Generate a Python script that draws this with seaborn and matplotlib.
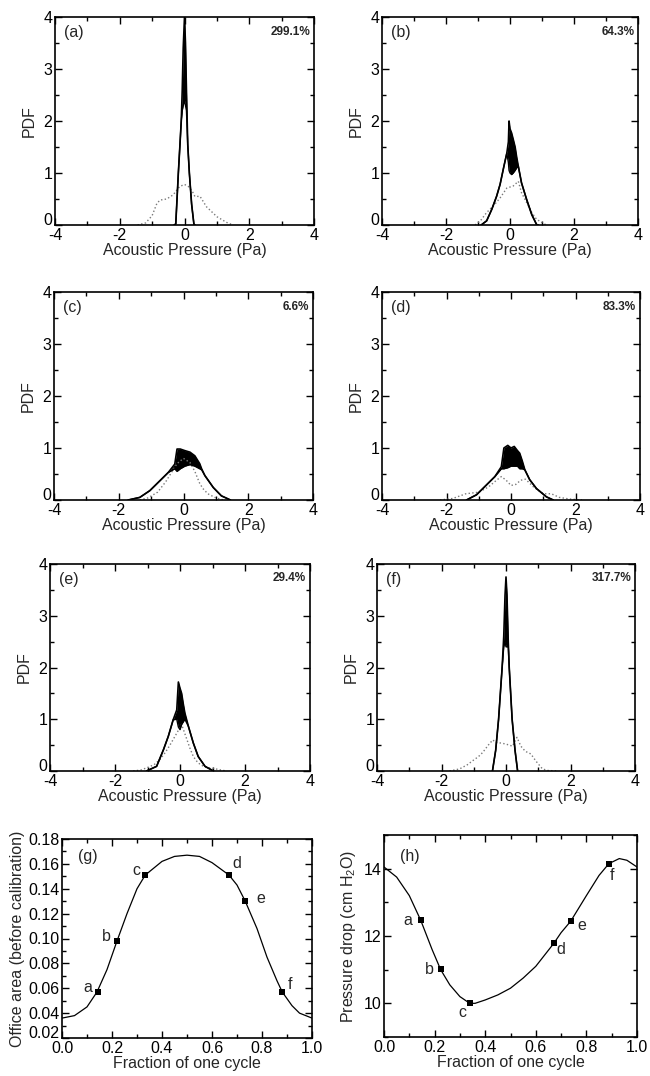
import matplotlib
matplotlib.use("Agg")
import matplotlib.pyplot as plt
import matplotlib.transforms as mtrans
import seaborn as sns
from matplotlib.ticker import MultipleLocator, FormatStrFormatter

# ---- data ----
tags = ['(a)', '(b)', '(c)', '(d)', '(e)', '(f)']
percents = ['299.1%', '64.3%', '6.6%', '83.3%', '29.4%', '317.7%']

# solid PDF: x, upper outline, lower edge of the noisy band
sx_a = [-0.32, -0.27, -0.19, -0.14, -0.1, -0.07, -0.04, 0.0, 0.03, 0.06, 0.1, 0.15, 0.22, 0.29, 0.32]
hi_a = [0, 0.02, 1.0, 1.55, 2.0, 2.6, 3.4, 4.0, 3.5, 2.6, 1.55, 1.0, 0.4, 0.02, 0]
lo_a = [0, 0.02, 1.0, 1.55, 2.0, 2.2, 2.3, 2.4, 2.3, 2.2, 1.55, 1.0, 0.4, 0.02, 0]

sx_b = [-0.9, -0.73, -0.57, -0.42, -0.31, -0.19, -0.1, -0.05, -0.03, 0.0, 0.05, 0.1, 0.16, 0.21, 0.26, 0.36, 0.52, 0.68, 0.83, 0.88]
hi_b = [0, 0.08, 0.3, 0.55, 0.78, 1.13, 1.38, 1.6, 2.0, 1.85, 1.77, 1.65, 1.5, 1.3, 1.13, 0.81, 0.49, 0.2, 0.01, 0]
lo_b = [0, 0.08, 0.3, 0.55, 0.78, 1.13, 1.38, 1.2, 1.05, 1.0, 0.97, 1.0, 1.05, 1.1, 1.13, 0.81, 0.49, 0.2, 0.01, 0]

sx_c = [-1.71, -1.35, -1.04, -0.73, -0.47, -0.27, -0.2, -0.1, 0.04, 0.2, 0.35, 0.5, 0.56, 0.66, 0.92, 1.17, 1.45]
hi_c = [0, 0.05, 0.18, 0.37, 0.53, 0.69, 0.98, 0.98, 0.95, 0.92, 0.85, 0.7, 0.6, 0.47, 0.24, 0.08, 0]
lo_c = [0, 0.05, 0.18, 0.37, 0.53, 0.6, 0.55, 0.6, 0.65, 0.68, 0.65, 0.6, 0.58, 0.47, 0.24, 0.08, 0]

sx_d = [-1.38, -1.07, -0.76, -0.5, -0.3, -0.22, -0.1, 0.0, 0.1, 0.2, 0.27, 0.35, 0.43, 0.58, 0.79, 1.1, 1.31]
hi_d = [0, 0.1, 0.29, 0.45, 0.64, 1.0, 1.05, 1.0, 1.03, 0.95, 0.9, 0.75, 0.58, 0.39, 0.22, 0.06, 0]
lo_d = [0, 0.1, 0.29, 0.45, 0.6, 0.6, 0.62, 0.65, 0.65, 0.65, 0.6, 0.6, 0.58, 0.39, 0.22, 0.06, 0]

sx_e = [-1.03, -0.72, -0.51, -0.36, -0.21, -0.1, -0.05, 0.0, 0.05, 0.1, 0.15, 0.26, 0.41, 0.56, 0.77, 1.03]
hi_e = [0, 0.09, 0.41, 0.67, 0.99, 1.18, 1.72, 1.6, 1.5, 1.3, 1.12, 0.86, 0.54, 0.28, 0.09, 0]
lo_e = [0, 0.09, 0.41, 0.67, 0.99, 1.0, 0.85, 0.8, 0.9, 0.95, 1.0, 0.86, 0.54, 0.28, 0.09, 0]

sx_f = [-0.42, -0.32, -0.23, -0.12, -0.07, -0.03, 0.0, 0.03, 0.07, 0.1, 0.19, 0.28, 0.36]
hi_f = [0, 0.4, 1.0, 2.0, 2.6, 3.4, 3.75, 3.4, 2.5, 2.0, 1.0, 0.4, 0]
lo_f = [0, 0.4, 1.0, 2.0, 2.4, 2.5, 2.4, 2.4, 2.4, 2.0, 1.0, 0.4, 0]

# dotted PDF
dx_a = [-1.45, -1.2, -1.0, -0.85, -0.75, -0.55, -0.35, -0.15, 0.0, 0.12, 0.24, 0.32, 0.48, 0.68, 1.0, 1.3, 1.5]
dy_a = [0, 0.04, 0.18, 0.42, 0.48, 0.5, 0.58, 0.74, 0.78, 0.74, 0.65, 0.55, 0.55, 0.35, 0.16, 0.05, 0]

dx_b = [-1.09, -0.9, -0.73, -0.5, -0.31, -0.1, 0.1, 0.26, 0.36, 0.47, 0.68, 0.83, 1.04, 1.14]
dy_b = [0, 0.1, 0.24, 0.38, 0.52, 0.71, 0.75, 0.84, 0.62, 0.49, 0.24, 0.11, 0.03, 0]

dx_c = [-1.35, -1.1, -0.8, -0.55, -0.35, -0.2, 0.0, 0.2, 0.35, 0.5, 0.6, 0.75, 1.0, 1.25]
dy_c = [0, 0.04, 0.15, 0.35, 0.55, 0.7, 0.8, 0.72, 0.55, 0.32, 0.22, 0.12, 0.04, 0]

dx_d = [-2.2, -1.8, -1.4, -1.0, -0.7, -0.45, -0.3, -0.15, 0.0, 0.15, 0.3, 0.45, 0.7, 1.0, 1.25, 1.5, 1.8, 2.2]
dy_d = [0, 0.03, 0.12, 0.15, 0.25, 0.38, 0.45, 0.38, 0.28, 0.3, 0.38, 0.4, 0.25, 0.12, 0.12, 0.05, 0.02, 0]

dx_e = [-1.44, -1.2, -1.03, -0.8, -0.62, -0.45, -0.31, -0.1, 0.05, 0.2, 0.3, 0.41, 0.55, 0.72, 0.9, 1.03, 1.25, 1.44]
dy_e = [0, 0.02, 0.06, 0.12, 0.22, 0.36, 0.5, 0.73, 0.9, 0.63, 0.45, 0.28, 0.16, 0.09, 0.06, 0.05, 0.02, 0]

dx_f = [-1.75, -1.44, -1.2, -1.03, -0.85, -0.72, -0.55, -0.41, -0.31, -0.15, 0.0, 0.2, 0.34, 0.46, 0.6, 0.77, 0.93, 1.13, 1.3, 1.6]
dy_f = [0, 0.04, 0.12, 0.2, 0.28, 0.36, 0.5, 0.6, 0.55, 0.54, 0.52, 0.48, 0.65, 0.48, 0.38, 0.33, 0.19, 0.04, 0.01, 0]

# (g) orifice area over one cycle
gx = [0.0, 0.05, 0.1, 0.14, 0.18, 0.22, 0.26, 0.3, 0.333, 0.4, 0.45, 0.5, 0.55, 0.6, 0.668, 0.7, 0.733, 0.78, 0.82, 0.86, 0.881, 0.92, 0.95, 1.0]
gy = [0.036, 0.038, 0.045, 0.057, 0.075, 0.098, 0.12, 0.14, 0.151, 0.162, 0.166, 0.167, 0.166, 0.161, 0.151, 0.143, 0.130, 0.108, 0.085, 0.066, 0.057, 0.046, 0.040, 0.036]
g_pts_x = [0.144, 0.22, 0.333, 0.668, 0.733, 0.881]
g_pts_y = [0.057, 0.098, 0.151, 0.151, 0.130, 0.057]

# (h) pressure drop over one cycle
hx = [0.0, 0.05, 0.1, 0.145, 0.19, 0.224, 0.26, 0.3, 0.339, 0.36, 0.4, 0.45, 0.5, 0.55, 0.6, 0.671, 0.7, 0.738, 0.8, 0.85, 0.889, 0.93, 0.96, 1.0]
hy = [14.05, 13.75, 13.2, 12.47, 11.6, 11.0, 10.55, 10.2, 10.0, 10.0, 10.1, 10.25, 10.45, 10.75, 11.1, 11.78, 12.1, 12.44, 13.2, 13.8, 14.15, 14.3, 14.25, 14.05]
h_pts_x = [0.145, 0.224, 0.339, 0.671, 0.738, 0.889]
h_pts_y = [12.47, 11.01, 10.0, 11.78, 12.44, 14.15]
pt_names = ['a', 'b', 'c', 'd', 'e', 'f']

# ---- style ----
sns.set_style("ticks")
plt.rcParams['font.family'] = ['Liberation Sans', 'DejaVu Sans']
plt.rcParams['mathtext.default'] = 'regular'
plt.rcParams['axes.unicode_minus'] = False
plt.rcParams['axes.linewidth'] = 1.2

FS = 11.5  # labels and ticks

fig = plt.figure(figsize=(6.5, 10.76), dpi=100)
W, H = 650.0, 1076.0


def make_axes(left, right, top, bottom):
    return fig.add_axes([left / W, 1 - bottom / H, (right - left) / W, (bottom - top) / H])


def style_ticks(ax):
    ax.tick_params(which='both', direction='in', top=True, right=True, labelsize=FS,
                   pad=2, color='k', labelcolor='k')
    ax.tick_params(which='major', length=5, width=1)
    ax.tick_params(which='minor', length=3, width=1)
    for s in ax.spines.values():
        s.set_color('k')
        s.set_linewidth(1.2)


boxes = [(55, 314, 17, 225), (382, 638, 17, 225),
         (54, 313, 292, 500), (382, 640, 292, 500),
         (50, 310, 564, 771), (377, 635, 564, 771)]
solid = [(sx_a, hi_a, lo_a), (sx_b, hi_b, lo_b), (sx_c, hi_c, lo_c),
         (sx_d, hi_d, lo_d), (sx_e, hi_e, lo_e), (sx_f, hi_f, lo_f)]
dotted = [(dx_a, dy_a), (dx_b, dy_b), (dx_c, dy_c), (dx_d, dy_d), (dx_e, dy_e), (dx_f, dy_f)]

all_axes = []
for i in range(6):
    ax = make_axes(*boxes[i])
    dx, dy = dotted[i]
    sx, hi, lo = solid[i]
    sns.lineplot(x=dx, y=dy, ax=ax, color='#7a7a7a', lw=1.0, linestyle=':')
    ax.fill_between(sx, lo, hi, color='k', lw=0)
    sns.lineplot(x=sx, y=hi, ax=ax, color='k', lw=1.2)
    sns.lineplot(x=sx, y=lo, ax=ax, color='k', lw=1.0)
    ax.set_xlim(-4, 4)
    ax.set_ylim(0, 4)
    ax.xaxis.set_major_locator(MultipleLocator(2))
    ax.xaxis.set_minor_locator(MultipleLocator(1))
    ax.yaxis.set_major_locator(MultipleLocator(1))
    ax.yaxis.set_minor_locator(MultipleLocator(0.5))
    style_ticks(ax)
    ax.set_xlabel('Acoustic Pressure (Pa)', fontsize=FS, labelpad=0)
    ax.set_ylabel('PDF', fontsize=FS, labelpad=5)
    ax.text(0.035, 0.925, tags[i], transform=ax.transAxes, fontsize=FS, ha='left', va='center')
    ax.text(0.985, 0.93, percents[i], transform=ax.transAxes, fontsize=8.5,
            fontweight='bold', ha='right', va='center')
    all_axes.append(ax)

# (g)
axg = make_axes(62, 312, 839, 1038)
sns.lineplot(x=gx, y=gy, ax=axg, color='k', lw=0.9)
sns.scatterplot(x=g_pts_x, y=g_pts_y, ax=axg, color='k', marker='s', s=14, linewidth=0)
axg.set_xlim(0, 1)
axg.set_ylim(0.02, 0.18)
axg.xaxis.set_major_locator(MultipleLocator(0.2))
axg.xaxis.set_minor_locator(MultipleLocator(0.1))
axg.yaxis.set_major_locator(MultipleLocator(0.02))
axg.yaxis.set_minor_locator(MultipleLocator(0.01))
axg.xaxis.set_major_formatter(FormatStrFormatter('%.1f'))
axg.yaxis.set_major_formatter(FormatStrFormatter('%.2f'))
style_ticks(axg)
axg.set_xlabel('Fraction of one cycle', fontsize=FS, labelpad=0)
axg.set_ylabel('Office area (before calibration)', fontsize=FS, labelpad=2)
axg.text(0.064, 0.166, '(g)', fontsize=FS, ha='left', va='center')
g_lab = [(0.104, 0.061), (0.177, 0.1016), (0.297, 0.155), (0.70, 0.160), (0.797, 0.132), (0.911, 0.063)]
for n, (tx, ty) in zip(pt_names, g_lab):
    axg.text(tx, ty, n, fontsize=FS, ha='center', va='center')
all_axes.append(axg)

# (h)
axh = make_axes(384, 637, 835, 1037)
sns.lineplot(x=hx, y=hy, ax=axh, color='k', lw=0.9)
sns.scatterplot(x=h_pts_x, y=h_pts_y, ax=axh, color='k', marker='s', s=14, linewidth=0)
axh.set_xlim(0, 1)
axh.set_ylim(9, 15)
axh.xaxis.set_major_locator(MultipleLocator(0.2))
axh.xaxis.set_minor_locator(MultipleLocator(0.1))
axh.yaxis.set_major_locator(MultipleLocator(2))
axh.yaxis.set_minor_locator(MultipleLocator(1))
axh.xaxis.set_major_formatter(FormatStrFormatter('%.1f'))
style_ticks(axh)
axh.set_xlabel('Fraction of one cycle', fontsize=FS, labelpad=0)
axh.set_ylabel('Pressure drop (cm H$_2$O)', fontsize=FS, labelpad=4)
axh.text(0.063, 14.36, '(h)', fontsize=FS, ha='left', va='center')
h_lab = [(0.096, 12.47), (0.18, 11.0), (0.31, 9.73), (0.70, 11.6), (0.78, 12.3), (0.90, 13.8)]
for n, (tx, ty) in zip(pt_names, h_lab):
    axh.text(tx, ty, n, fontsize=FS, ha='center', va='center')

# the lowest y tick label sits a little above the corner in the original
fig.canvas.draw()
for ax in all_axes:
    ymin = ax.get_ylim()[0]
    for t in ax.yaxis.get_major_ticks():
        if abs(t.get_loc() - ymin) < 1e-9:
            t.label1.set_transform(t.label1.get_transform()
                                   + mtrans.ScaledTranslation(0, 4 / 72, fig.dpi_scale_trans))

fig.savefig('out.png', dpi=100)
